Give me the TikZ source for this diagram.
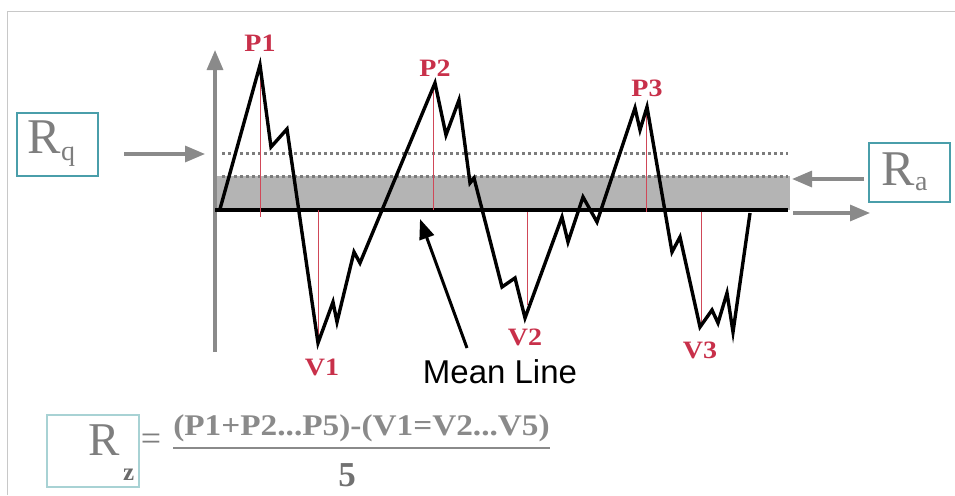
\documentclass[tikz,border=0pt]{standalone}
\usepackage{fontspec}
\setmainfont{Liberation Serif}
\newfontfamily\arialf{Liberation Sans}
\usetikzlibrary{arrows.meta}
\definecolor{axgray}{HTML}{8A8A8A}
\definecolor{bandgray}{HTML}{B4B4B4}
\definecolor{dotgray}{HTML}{7C7C7C}
\definecolor{peakred}{HTML}{C8304A}
\definecolor{droprd}{HTML}{D04858}
\definecolor{boxteal}{HTML}{4A9EAA}
\definecolor{boxlight}{HTML}{A8D2D4}
\definecolor{txtgray}{HTML}{7E7E7E}
\definecolor{framegray}{HTML}{C8C8C8}
\tikzset{
  grayarrow/.style={draw=axgray, line width=3.2pt, -{Triangle[length=20pt,width=16pt]}},
  droplinestyle/.style={draw=droprd, line width=1pt},
  dotline/.style={draw=dotgray, line width=3pt, dash pattern=on 3pt off 3pt},
  pklabel/.style={text=peakred, font=\fontsize{25}{25}\selectfont\bfseries, inner sep=0pt},
  rbox/.style={draw=boxteal, line width=1.4pt, inner sep=0pt},
  bigR/.style={text=txtgray, font=\fontsize{50}{50}\selectfont, inner sep=0pt, anchor=base west},
  subtxt/.style={text=txtgray, inner sep=0pt, anchor=base west},
  formtxt/.style={text=axgray, inner sep=0pt, font=\fontsize{30}{30}\selectfont\bfseries},
}
\begin{document}
\begin{tikzpicture}[x=1pt,y=-1pt]
\useasboundingbox (0,0) rectangle (955,495);
% frame
\coordinate (ftl) at (7,12);
\coordinate (ftr) at (955,12);
\coordinate (fbl) at (7,495);
\draw[framegray, line width=1pt] (fbl) -- (ftl) -- (ftr);
% band
\fill[bandgray] (217,176) rectangle (790,210);
\coordinate (d1a) at (222,153); \coordinate (d1b) at (788,153);
\coordinate (d2a) at (222,176); \coordinate (d2b) at (788,176);
\draw[dotline] (d1a) -- (d1b);
\draw[dotline] (d2a) -- (d2b);
% axes
\coordinate (yb) at (215,352); \coordinate (yt) at (215,50);
\draw[grayarrow] (yb) -- (yt);
\coordinate (xa) at (793,213); \coordinate (xb) at (870,213);
\draw[grayarrow] (xa) -- (xb);
% mean line
\coordinate (m0) at (215,210); \coordinate (m1) at (788,210);
\draw[black, line width=3.5pt] (m0) -- (m1);
% drop lines
\coordinate (p1t) at (260,66); \coordinate (p1b) at (260,217);
\coordinate (v1t) at (318,210); \coordinate (v1b) at (318,340);
\coordinate (p2t) at (433,86); \coordinate (p2b) at (433,210);
\coordinate (v2t) at (527,212); \coordinate (v2b) at (527,305);
\coordinate (p3t) at (646,108); \coordinate (p3b) at (646,212);
\coordinate (v3t) at (701,212); \coordinate (v3b) at (701,325);
\draw[droplinestyle] (p1t) -- (p1b);
\draw[droplinestyle] (v1t) -- (v1b);
\draw[droplinestyle] (p2t) -- (p2b);
\draw[droplinestyle] (v2t) -- (v2b);
\draw[droplinestyle] (p3t) -- (p3b);
\draw[droplinestyle] (v3t) -- (v3b);
% profile
\draw[black, line width=3.4pt, line join=miter]
 (220,209) -- (260,65) -- (271,147) -- (287,129) -- (318,343) -- (333,302) -- (337,322)
 -- (354,252) -- (360,263) -- (435,83) -- (446,135) -- (459,100) -- (470,183) -- (474,178)
 -- (502,287) -- (515,278) -- (525,318) -- (562,217) -- (568,242) -- (583,197) -- (597,222)
 -- (635,108) -- (640,130) -- (647,107) -- (672,252) -- (680,237) -- (700,327) -- (712,310)
 -- (718,323) -- (727,293) -- (733,332) -- (750,213);
% peak / valley labels
\node[pklabel] (lp1) at (260,43) {\scalebox{1.12}[1]{P1}};
\node[pklabel] (lp2) at (435,68) {\scalebox{1.12}[1]{P2}};
\node[pklabel] (lp3) at (647,88) {\scalebox{1.12}[1]{P3}};
\node[pklabel] (lv1) at (322,367) {\scalebox{1.12}[1]{V1}};
\node[pklabel] (lv2) at (525,337) {\scalebox{1.12}[1]{V2}};
\node[pklabel] (lv3) at (700,350) {\scalebox{1.12}[1]{V3}};
% mean line label
\node[inner sep=0pt, anchor=base, font=\arialf\fontsize{33}{33}\selectfont] (ml) at (500,383) {Mean Line};
\coordinate (mla) at (467,348); \coordinate (mlb) at (420,219);
\draw[black, line width=3pt, -{Triangle[length=20pt,width=15pt]}] (mla) -- (mlb);
% Rq
\node[rbox, minimum width=81pt, minimum height=63pt] (rqbox) at (57.5,144.5) {};
\node[bigR] (rqR) at (27,153) {R};
\node[subtxt, font=\fontsize{28}{28}\selectfont] (rqq) at (61,160) {q};
\coordinate (rqa) at (124,154); \coordinate (rqb) at (205,154);
\draw[grayarrow] (rqa) -- (rqb);
% Ra
\node[rbox, minimum width=81pt, minimum height=59pt] (rabox) at (909.5,172.5) {};
\node[bigR] (raR) at (881,185) {R};
\node[subtxt, font=\fontsize{28}{28}\selectfont] (raa) at (915,190) {a};
\coordinate (raa1) at (864,179); \coordinate (rab1) at (792,179);
\draw[grayarrow] (raa1) -- (rab1);
% Rz formula
\node[draw=boxlight, line width=1.4pt, inner sep=0pt, minimum width=92pt, minimum height=72pt] (rzbox) at (93,451) {};
\node[bigR, font=\fontsize{47}{47}\selectfont] (rzR) at (88,455) {R};
\node[subtxt, text=txtgray!85!black, font=\fontsize{25}{25}\selectfont\bfseries] (rzz) at (123,480) {z};
\node[text=txtgray, inner sep=0pt, font=\fontsize{36}{36}\selectfont] (eq) at (151,442) {=};
\node[formtxt] (num) at (361.5,428) {\scalebox{1.11}[1]{(P1+P2...P5)-(V1=V2...V5)}};
\coordinate (fl0) at (173,448); \coordinate (fl1) at (550,448);
\draw[axgray, line width=2pt] (fl0) -- (fl1);
\node[formtxt, text=txtgray!90!black, font=\fontsize{35}{35}\selectfont\bfseries] (den) at (347,475) {5};
\end{tikzpicture}
\end{document}
